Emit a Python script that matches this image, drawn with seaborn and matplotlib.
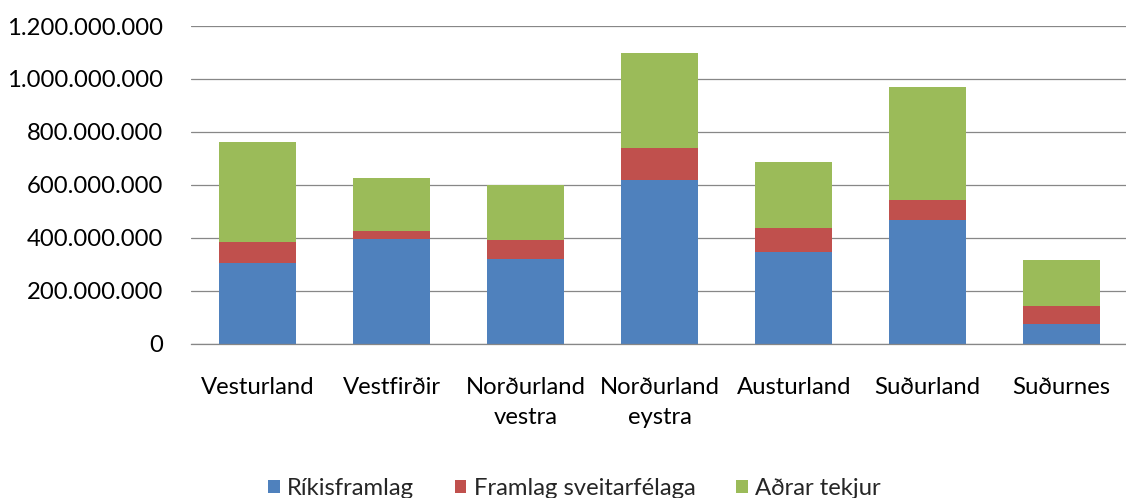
import matplotlib
matplotlib.use("Agg")
import matplotlib.pyplot as plt
import seaborn as sns
import numpy as np
import pandas as pd
from matplotlib.patches import Patch

categories = ["Vesturland", "Vestfirðir", "Norðurland\nvestra", "Norðurland\neystra",
              "Austurland", "Suðurland", "Suðurnes"]
rikisframlag = [303e6, 396e6, 318e6, 617e6, 345e6, 466e6, 75e6]
framlag_sveitarfelaga = [81e6, 30e6, 72e6, 123e6, 90e6, 75e6, 68e6]
adrar_tekjur = [378e6, 200e6, 208e6, 359e6, 250e6, 428e6, 174e6]
series_names = ["Ríkisframlag", "Framlag sveitarfélaga", "Aðrar tekjur"]
colors = ["#4F81BD", "#C0504D", "#9BBB59"]
yticks = [0, 200e6, 400e6, 600e6, 800e6, 1000e6, 1200e6]

sns.set_theme(style="white")
plt.rcParams['font.family'] = ['Lato', 'DejaVu Sans']
FS = 17.2

b = np.array(rikisframlag)
r = np.array(framlag_sveitarfelaga)
g = np.array(adrar_tekjur)
df = pd.DataFrame({"cat": categories, "s1": b, "s2": b + r, "s3": b + r + g})

fig = plt.figure(figsize=(11.26, 4.98), dpi=100)
ax = fig.add_axes([191/1126, (498-343.5)/498, (1126-191)/1126, (343.5-26)/498])

for col, c in zip(["s3", "s2", "s1"], colors[::-1]):
    sns.barplot(data=df, x="cat", y=col, color=c, width=0.575, ax=ax,
                saturation=1, linewidth=0, zorder=3)

ax.set_ylim(0, 1.2e9)
ax.set_xlim(-0.5, 6.48)
ax.set_yticks(yticks)
ax.set_yticklabels([f"{int(v):,}".replace(",", ".") for v in yticks])
ax.yaxis.grid(True, color="#878787", linewidth=0.9, zorder=0)
ax.set_axisbelow(True)
for s in ["top", "right", "left"]:
    ax.spines[s].set_visible(False)
ax.spines["bottom"].set_color("#878787")
ax.spines["bottom"].set_linewidth(0.9)
ax.spines["bottom"].set_zorder(4)
ax.set_xlabel("")
ax.set_ylabel("")
ax.tick_params(axis="x", length=0, pad=24, labelsize=FS, colors="black")
ax.tick_params(axis="y", length=0, pad=20, labelsize=FS, colors="black")
for t in ax.get_xticklabels():
    t.set_linespacing(1.55)

handles = [Patch(facecolor=c, edgecolor="none") for c in colors]
fig.legend(handles, series_names, loc="lower center", bbox_to_anchor=(0.51, -0.045),
           ncol=3, frameon=False, fontsize=FS, handlelength=0.5, handleheight=0.5,
           handletextpad=0.3, columnspacing=1.7)

fig.savefig("out.png", dpi=100)
